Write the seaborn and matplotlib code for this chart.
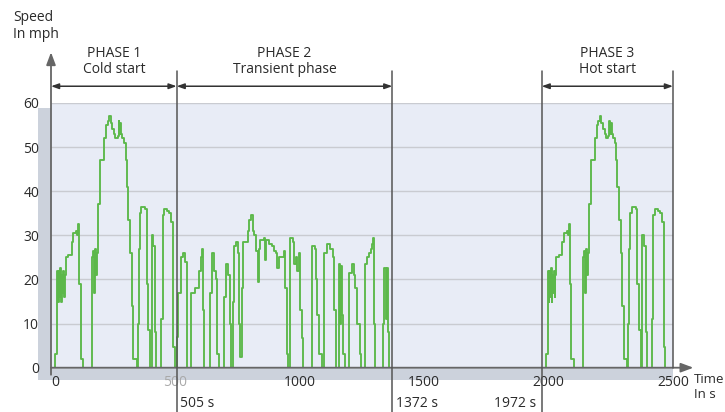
import numpy as np
import pandas as pd
import matplotlib
matplotlib.use("Agg")
import matplotlib.pyplot as plt
import seaborn as sns
from matplotlib.patches import Rectangle

# ---------------- data ----------------
# Phase 1, cold start: (time in s, speed in mph) breakpoints of the trace
cold_start = [
    (0, 0), (16, 3), (25, 22), (28, 15), (31, 22), (34, 16), (37, 22.5), (40, 15),
    (43, 21), (46, 17), (49, 22), (52, 16), (55, 21), (59, 25), (70, 25.5),
    (83, 28.5), (90, 30.5), (100, 31), (106, 30), (110, 32.5), (114, 19),
    (120, 2), (129, 0),
    (165, 25), (170, 26.5), (174, 17), (177, 27), (181, 21), (185, 26),
    (190, 37), (197, 47), (214, 52), (221, 55), (228, 56), (235, 57),
    (240, 55.5), (246, 54), (253, 53), (259, 52), (268, 52.5), (272, 56),
    (275, 53), (277, 55.5), (281, 53), (286, 52), (293, 51), (300, 47),
    (304, 41), (310, 33.5), (317, 26), (324, 14), (331, 2), (344, 0),
    (349, 10), (353, 27), (357, 35), (362, 36.5), (378, 36), (384, 19),
    (390, 8.5), (398, 0), (404, 30), (410, 27.5), (418, 8), (423, 0),
    (443, 11), (449, 34.5), (456, 36), (466, 35.5), (474, 35), (483, 33),
    (492, 4.8), (497, 0),
]
# Phase 2, transient phase
transient = [
    (505, 3), (507, 7), (511, 17), (522, 25), (532, 26), (540, 24), (548, 0),
    (563, 17), (578, 18), (594, 22), (603, 25), (608, 27), (611, 13), (616, 0),
    (641, 17), (648, 26), (654, 22), (662, 20), (668, 3), (675, 0),
    (695, 16), (704, 23.5), (712, 21), (720, 10), (725, 0),
    (732, 15), (737, 27.5), (742, 28.5), (750, 26), (756, 10), (760, 2.5),
    (766, 18), (772, 28.5), (790, 31), (797, 33.5), (803, 34.5), (810, 31),
    (816, 30), (823, 26.5), (830, 19.5), (836, 27), (842, 29), (858, 29.3),
    (862, 24.5), (866, 29), (876, 28), (888, 27.5), (896, 26.5), (904, 26),
    (910, 22.5), (916, 25), (935, 26.5), (942, 18), (948, 3), (954, 0),
    (960, 29.5), (972, 28.5), (978, 23.5), (985, 25), (990, 22), (997, 26),
    (1002, 13), (1007, 6.8), (1013, 0),
    (1050, 27.5), (1060, 27), (1065, 20), (1071, 12), (1079, 3), (1088, 0),
    (1098, 26), (1108, 28), (1122, 27), (1132, 25), (1138, 13), (1145, 0),
    (1158, 23.5), (1162, 10), (1165, 23), (1168, 12), (1172, 3), (1180, 0),
    (1196, 21.5), (1208, 23.5), (1216, 21), (1222, 18), (1230, 10), (1240, 3),
    (1246, 0),
    (1262, 23.5), (1272, 25), (1279, 26), (1285, 27), (1290, 28), (1295, 29.5),
    (1298, 10), (1301, 0),
    (1335, 10), (1340, 22.5), (1345, 11), (1350, 22.5), (1354, 8), (1357, 0),
    (1372, 0),
]
# Phase 3, hot start: repeats the cold-start trace after the soak
hot_start_begin = 1972
cycle_end = 2477

phase_spans = [(0, 505), (505, 1372), (1972, 2500)]
phase_titles = ["PHASE 1\nCold start", "PHASE 2\nTransient phase", "PHASE 3\nHot start"]
marker_times = [505, 1372, 1972]
marker_labels = ["505 s", "1372 s", "1972 s"]
x_ticks = [0, 500, 1000, 1500, 2000, 2500]
x_tick_labels = ["0", "500", "1000", "1500", "2000", "2500"]
y_ticks = [0, 10, 20, 30, 40, 50, 60]

# ---------------- build table ----------------
seg1 = cold_start + transient
seg2 = [(t + hot_start_begin, v) for t, v in cold_start] + [(cycle_end, 0)]
df = pd.DataFrame(
    [(t, v, "cold+transient") for t, v in seg1] + [(t, v, "hot") for t, v in seg2],
    columns=["time", "speed", "segment"],
)

# ---------------- style ----------------
sns.set_style("white")
plt.rcParams["font.family"] = ["Open Sans", "DejaVu Sans"]
plt.rcParams["font.size"] = 10

GREEN = "#5cb84a"
PLOT_BG = "#e8ecf6"
SHADOW = "#ccd2dc"
GRID = "#c9cbd1"
AXIS = "#666666"
TXT = "#2a2a2a"

fig = plt.figure(figsize=(7.25, 4.12), dpi=100)
ax = fig.add_axes([51 / 725, 44.3 / 412, 622 / 725, 264.7 / 412])
ax.set_xlim(0, 2500)
ax.set_ylim(0, 60)
ax.set_facecolor("none")
for s in ax.spines.values():
    s.set_visible(False)

# drop shadow and plot background
ax.add_patch(Rectangle((-52, -2.8), 2552, 61.7, facecolor=SHADOW, edgecolor="none",
                       zorder=0, clip_on=False))
ax.add_patch(Rectangle((0, 0), 2500, 60, facecolor=PLOT_BG, edgecolor="none",
                       zorder=0.5, clip_on=False))
for y in y_ticks[1:]:
    ax.axhline(y, color=GRID, lw=1.0, zorder=1)

# speed trace
sns.lineplot(data=df, x="time", y="speed", units="segment", estimator=None, sort=False,
             color=GREEN, lw=1.35, drawstyle="steps-post", ax=ax, zorder=3, legend=False)
ax.set_xlabel("")
ax.set_ylabel("")

# ticks
ax.set_yticks(y_ticks)
ax.set_yticklabels([str(v) for v in y_ticks])
ax.tick_params(axis="y", length=5.5, width=1, color=AXIS, pad=3, labelsize=10, labelcolor=TXT)
ax.set_xticks(x_ticks)
ax.set_xticklabels(x_tick_labels)
ax.set_xticks(np.arange(0, 2501, 100), minor=True)
ax.tick_params(axis="x", which="both", length=5, width=1, color=AXIS, pad=0.5,
               labelsize=10, labelcolor=TXT)
xl = ax.get_xticklabels()
xl[0].set_horizontalalignment("left")
xl[1].set_color("#a9a9a9")

# axis arrows
ax.annotate("", xy=(0, 71.5), xytext=(0, -1.6),
            arrowprops=dict(arrowstyle="-|>,head_length=0.75,head_width=0.28", color=AXIS,
                            lw=1.3, shrinkA=0, shrinkB=0),
            annotation_clip=False, zorder=4)
ax.annotate("", xy=(2582, 0), xytext=(0, 0),
            arrowprops=dict(arrowstyle="-|>,head_length=0.75,head_width=0.28", color=AXIS,
                            lw=1.3, shrinkA=0, shrinkB=0),
            annotation_clip=False, zorder=4)

# phase boundary lines
for t in marker_times:
    ax.plot([t, t], [67.3, -10.1], color="#555555", lw=1.1, clip_on=False, zorder=4)
ax.plot([2500, 2500], [67.3, 0], color="#555555", lw=1.1, clip_on=False, zorder=4)

# phase arrows and titles
for (a, b), title in zip(phase_spans, phase_titles):
    ax.annotate("", xy=(b, 63.8), xytext=(a, 63.8),
                arrowprops=dict(arrowstyle="<|-|>,head_length=0.45,head_width=0.16",
                                color="#333333", lw=1.1, shrinkA=0, shrinkB=0),
                annotation_clip=False)
    ax.text((a + b) / 2, 69.4, title, ha="center", va="center", fontsize=10,
            color=TXT, linespacing=1.15, clip_on=False)

# time markers below axis
for t, lab in zip(marker_times, marker_labels):
    right = t == 1972
    ax.annotate(lab, xy=(t, -8.2), xytext=(-4 if right else 2.5, 0),
                textcoords="offset points", ha="right" if right else "left",
                va="center", fontsize=10, color=TXT, annotation_clip=False)

# axis titles
fig.text(13 / 725, 1 - 10 / 412, "Speed\nIn mph", ha="left", va="top", fontsize=10,
         color=TXT, linespacing=1.15)
fig.text(694 / 725, 1 - 373 / 412, "Time\nIn s", ha="left", va="top", fontsize=9.5,
         color=TXT, linespacing=1.2)

fig.savefig("out.png", dpi=100)
